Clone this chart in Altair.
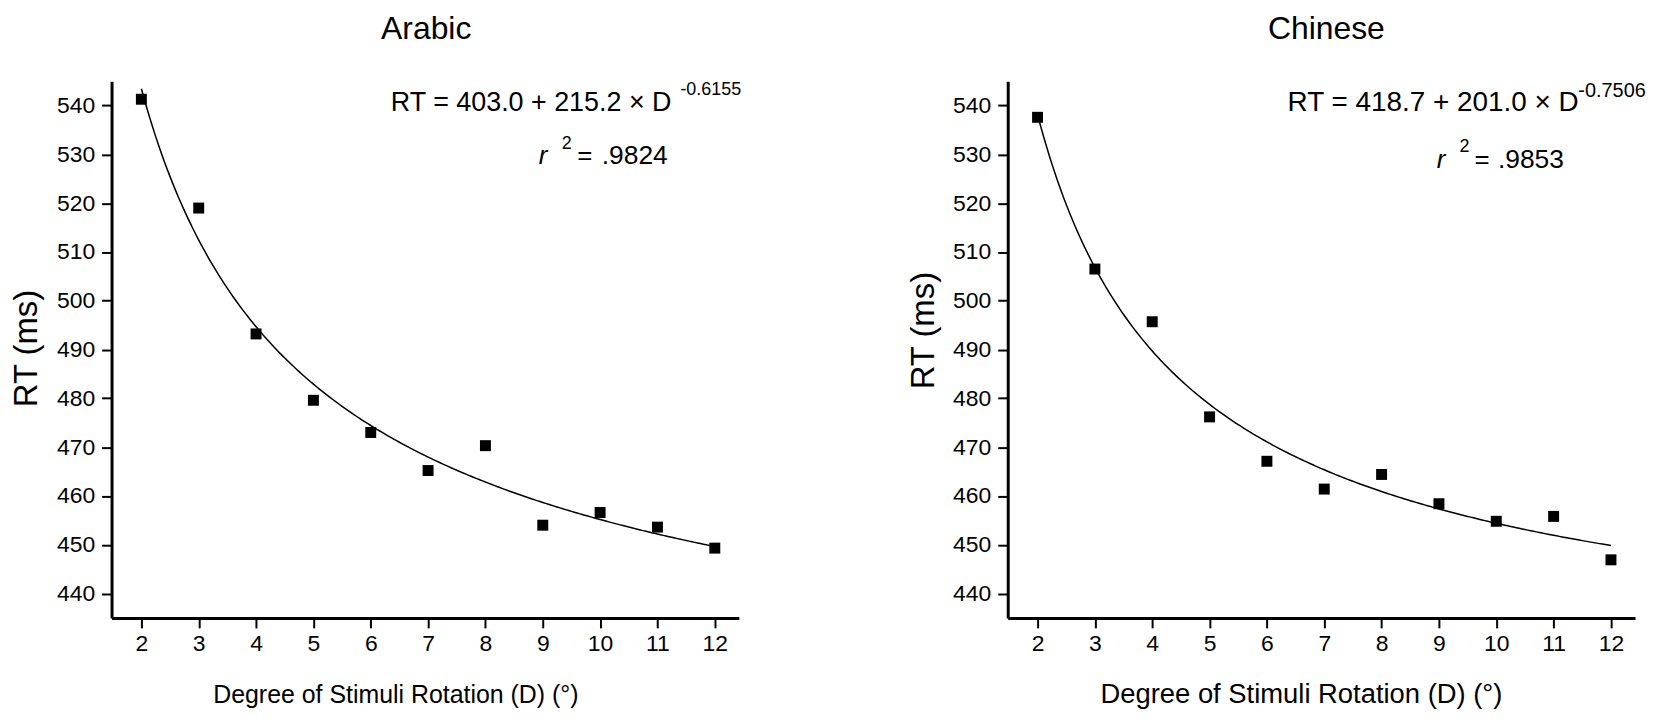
import altair as alt
import pandas as pd

# ---- data ----
D_VALUES = [2, 3, 4, 5, 6, 7, 8, 9, 10, 11, 12]
RT_ARABIC = [541.3, 519.0, 493.2, 479.6, 473.0, 465.2, 470.3, 454.0, 456.6, 453.6, 449.3]
RT_CHINESE = [537.6, 506.5, 495.7, 476.2, 467.1, 461.4, 464.4, 458.4, 454.8, 455.8, 446.9]

# fitted power function RT = a + b * D^c (as printed in the chart)
FIT_ARABIC = [403.0, 215.2, -0.6155]
FIT_CHINESE = [418.7, 201.0, -0.7506]
R2_ARABIC = ".9824"
R2_CHINESE = ".9853"

Y_TICKS = [440, 450, 460, 470, 480, 490, 500, 510, 520, 530, 540]
X_TICKS = D_VALUES

FONT = "Liberation Sans"
X_TITLE = "Degree of Stimuli Rotation (D) (°)"
Y_TITLE = "RT (ms)"

# annotation anchors (data coordinates)
ANCH_ARABIC = {"eq": (6.35, 538.8), "sup": (11.40, 542.2), "r": (8.93, 528.0),
               "two": (9.33, 531.2), "eqs": (9.60, 528.0), "val": (11.18, 528.0)}
ANCH_CHINESE = {"eq": (6.36, 538.8), "sup": (11.43, 541.8), "r": (8.96, 527.2),
                "two": (9.36, 530.5), "eqs": (9.62, 527.2), "val": (11.18, 527.2)}


def fmt(v):
    return f"{v:.1f}"


def panel(title, rt, fit, r2, anch, ytitle_y, xtitle_x, xtitle_size, sup_size, eq_size, tdx):
    xs = alt.Scale(domain=[1.48, 12.42], nice=False, zero=False)
    ys = alt.Scale(domain=[435, 545], nice=False, zero=False)
    x_axis = alt.Axis(values=X_TICKS, title=X_TITLE, grid=False,
                      domainColor="black", domainWidth=3,
                      tickColor="black", tickWidth=2, tickSize=10,
                      labelFont=FONT, labelFontSize=23, labelColor="black",
                      labelPadding=5, labelFlush=False, labelOverlap=False,
                      titleFont=FONT, titleFontSize=xtitle_size, titleFontWeight="normal",
                      titleColor="black", titleX=xtitle_x, titleY=85,
                      titleBaseline="alphabetic", titleAlign="center")
    y_axis = alt.Axis(values=Y_TICKS, title=Y_TITLE, grid=False,
                      domainColor="black", domainWidth=3,
                      tickColor="black", tickWidth=2, tickSize=10,
                      labelFont=FONT, labelFontSize=23, labelColor="black",
                      labelPadding=7, labelFlush=False, labelOverlap=False,
                      titleFont=FONT, titleFontSize=33, titleFontWeight="normal",
                      titleColor="black", titleX=-75, titleY=ytitle_y,
                      titleAngle=270, titleBaseline="alphabetic", titleAlign="center")
    X = alt.X("D:Q", scale=xs, axis=x_axis)
    Y = alt.Y("RT:Q", scale=ys, axis=y_axis)

    pts = alt.Chart(pd.DataFrame({"D": D_VALUES, "RT": rt})).mark_square(
        size=121, color="black", opacity=1, filled=True
    ).encode(x=X, y=Y)

    a, b, c = fit
    curve = alt.Chart(alt.sequence(2, 12.0001, 0.05, as_="D")).transform_calculate(
        RT=f"{a} + {b} * pow(datum.D, {c})"
    ).mark_line(color="black", strokeWidth=1.5).encode(x=X, y=Y)

    def txt(key, label, size, style="normal", align="left"):
        d, r = anch[key]
        return alt.Chart(pd.DataFrame({"D": [d], "RT": [r], "label": [label]})).mark_text(
            align=align, baseline="alphabetic", font=FONT, fontSize=size,
            fontStyle=style, color="black"
        ).encode(x=X, y=Y, text="label:N")

    eq = txt("eq", f"RT = {fmt(a)} + {fmt(b)} × D", eq_size)
    sup = txt("sup", f"{c:.4f}", sup_size)
    rr = txt("r", "r", 26, "italic")
    two = txt("two", "2", 18)
    eqs = txt("eqs", "=", 26)
    val = txt("val", r2, 26.5, align="right")

    return alt.layer(curve, pts, eq, sup, rr, two, eqs, val).properties(
        width=630, height=539,
        title=alt.TitleParams(text=title, font=FONT, fontSize=32, fontWeight="normal",
                              color="black", anchor="middle", frame="group",
                              baseline="alphabetic", offset=10, dx=tdx),
    )


left = panel("Arabic", RT_ARABIC, FIT_ARABIC, R2_ARABIC, ANCH_ARABIC, 268, 285, 25, 18, 27, 1)
right = panel("Chinese", RT_CHINESE, FIT_CHINESE, R2_CHINESE, ANCH_CHINESE, 250, 294.5, 27.5, 20, 28, 5)

chart = alt.hconcat(left, right, spacing=166).properties(
    padding={"left": 3, "top": 3, "right": 0, "bottom": 0},
    background="white",
).configure_view(stroke=None)

chart.save("out.html", embed_options={"renderer": "svg", "actions": False})
